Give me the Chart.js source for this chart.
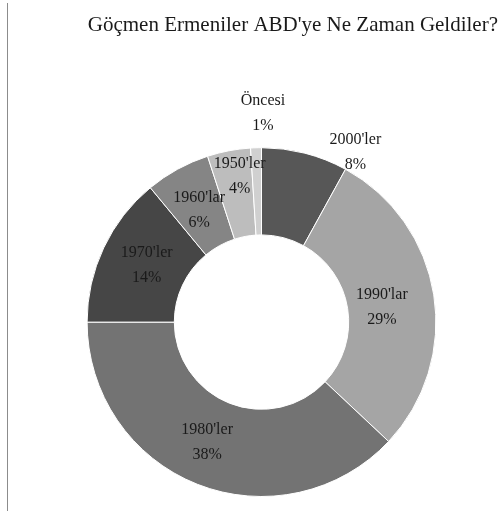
<!DOCTYPE html>
<html>
<head>
<meta charset="utf-8">
<script src="https://cdn.jsdelivr.net/npm/chart.js@4/dist/chart.umd.min.js"></script>
<style>
  html, body { margin: 0; padding: 0; background: #fff; }
  #wrap { position: relative; width: 501px; height: 511px; }
  #frame { position: absolute; left: 7px; top: 3px; width: 1px; height: 508px; background: #8c8c8c; }
</style>
</head>
<body>
<div id="wrap">
  <canvas id="donut" width="501" height="511"></canvas>
  <div id="frame"></div>
</div>
<script>
// Data
const periods = ["2000'ler", "1990'lar", "1980'ler", "1970'ler", "1960'lar", "1950'ler", "Öncesi"];
const shares = [8, 29, 38, 14, 6, 4, 1];
const sliceColors = ['#575757', '#a5a5a5', '#737373', '#464646', '#858585', '#bdbdbd', '#d0d0d0'];

// where each label sits: fraction across the ring (0 inner, 1 outer) and angle shift in degrees
const labelPlace = [
  { f: 1.22, shift: 14.6 },
  { f: 0.39, shift: 2.2 },
  { f: 0.51, shift: 2.8 },
  { f: 0.47, shift: 1.2 },
  { f: 0.47, shift: -0.3 },
  { f: 0.69, shift: 2.3 },
  { f: 1.39, shift: 2.2 }
];

const sliceLabels = {
  id: 'sliceLabels',
  afterDatasetsDraw(chart) {
    const c = chart.ctx;
    const meta = chart.getDatasetMeta(0);
    c.save();
    c.font = '16px "Liberation Serif", serif';
    c.fillStyle = '#1a1a1a';
    c.textAlign = 'center';
    c.textBaseline = 'middle';
    meta.data.forEach((arc, i) => {
      const p = arc.getProps(['x', 'y', 'startAngle', 'endAngle', 'innerRadius', 'outerRadius'], true);
      const place = labelPlace[i];
      const a = (p.startAngle + p.endAngle) / 2 + place.shift * Math.PI / 180;
      const r = p.innerRadius + (p.outerRadius - p.innerRadius) * place.f;
      const lx = p.x + Math.cos(a) * r;
      const ly = p.y + Math.sin(a) * r;
      c.fillText(periods[i], lx, ly - 12.5);
      c.fillText(shares[i] + '%', lx, ly + 12.5);
    });
    c.restore();
  }
};

new Chart(document.getElementById('donut'), {
  type: 'doughnut',
  data: {
    labels: periods,
    datasets: [{
      data: shares,
      backgroundColor: sliceColors,
      borderColor: '#ffffff',
      borderWidth: 1
    }]
  },
  options: {
    responsive: false,
    animation: false,
    cutout: '50%',
    layout: { padding: { left: 25, right: 3, top: 0, bottom: 14 } },
    plugins: {
      legend: { display: false },
      tooltip: { enabled: false },
      title: {
        display: true,
        text: "Göçmen Ermeniler ABD'ye Ne Zaman Geldiler?",
        align: 'end',
        color: '#1a1a1a',
        font: { family: '"Liberation Serif", serif', size: 21, weight: 'normal', lineHeight: 1.2 },
        padding: { top: 13, bottom: 109 }
      }
    }
  },
  plugins: [sliceLabels]
});
</script>
</body>
</html>
